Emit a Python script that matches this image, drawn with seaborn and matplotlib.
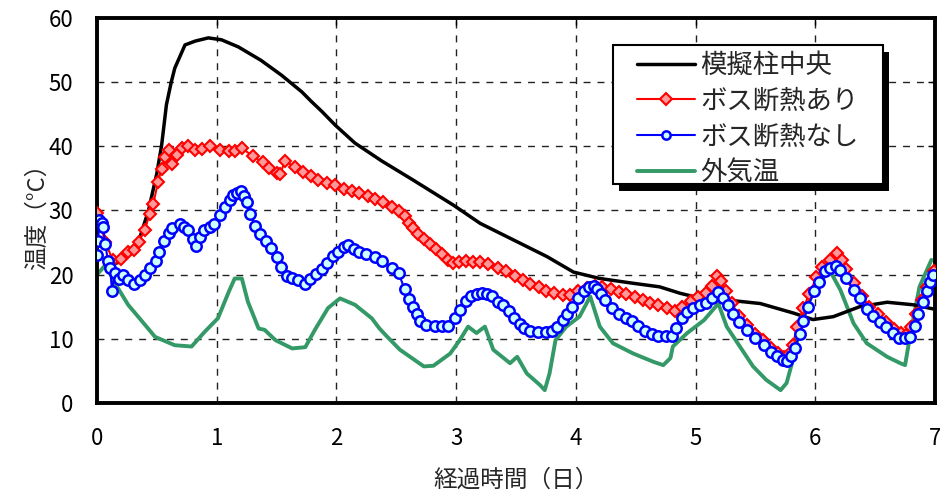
import matplotlib
matplotlib.use("Agg")
import matplotlib.pyplot as plt
from matplotlib.patches import Rectangle
import seaborn as sns

# 模擬柱中央
center_x = [0.1, 0.2, 0.3, 0.36, 0.43, 0.5, 0.54, 0.58, 0.62, 0.65, 0.735, 0.82, 0.93, 1.04, 1.18,
            1.37, 1.54, 1.71, 1.79, 1.88, 1.99, 2.155, 2.38, 2.64, 2.98, 3.2, 3.48, 3.76, 3.98, 4.2,
            4.48, 4.7, 4.87, 4.98, 5.26, 5.54, 5.82, 5.98, 6.15, 6.37, 6.6, 6.82, 7.0]
center_y = [21.5, 22, 24, 25.9, 30, 35.8, 40.2, 46.5, 50.0, 52.2, 55.8, 56.4, 56.9, 56.6, 55.5,
            53.4, 51.1, 48.5, 47.0, 45.4, 43.3, 40.5, 37.7, 34.75, 30.8, 28.0, 25.4, 22.8, 20.4, 19.4,
            18.65, 18.1, 17.1, 16.6, 16.05, 15.5, 14.0, 13.0, 13.45, 15.0, 15.7, 15.3, 14.6]

# ボス断熱あり
ins_x = [0, 0.07, 0.13, 0.2, 0.26, 0.31, 0.35, 0.40, 0.44, 0.47, 0.51, 0.54, 0.57, 0.60, 0.625,
         0.67, 0.71, 0.76, 0.82, 0.88, 0.94, 1.03, 1.10, 1.15, 1.21, 1.30, 1.385, 1.44, 1.50, 1.53,
         1.57, 1.65, 1.72, 1.79, 1.85, 1.92, 1.99, 2.06, 2.13, 2.19, 2.26, 2.32, 2.39, 2.46, 2.52,
         2.57, 2.61, 2.64, 2.68, 2.73, 2.78, 2.83, 2.88, 2.93, 2.97, 3.02, 3.08, 3.14, 3.20, 3.27,
         3.35, 3.42, 3.49, 3.56, 3.62, 3.69, 3.75, 3.82, 3.89, 3.95, 4.02, 4.09, 4.16, 4.22, 4.29,
         4.36, 4.42, 4.49, 4.56, 4.62, 4.69, 4.76, 4.83, 4.89, 4.96, 5.02, 5.09, 5.14, 5.18, 5.21,
         5.25, 5.30, 5.36, 5.43, 5.50, 5.56, 5.63, 5.69, 5.74, 5.78, 5.81, 5.85, 5.90, 5.95, 6.01,
         6.06, 6.12, 6.18, 6.22, 6.26, 6.32, 6.39, 6.45, 6.52, 6.59, 6.66, 6.72, 6.76, 6.80, 6.84,
         6.89, 6.93, 6.99]
ins_y = [29.6, 25.1, 22.3, 22.5, 23.6, 23.8, 25.1, 27.0, 29.5, 31.0, 34.5, 36.5, 38.3, 39.4, 37.2,
         38.7, 39.7, 40.0, 39.5, 39.6, 40.1, 39.5, 39.2, 39.3, 39.7, 38.5, 37.5, 36.6, 35.8, 35.7,
         37.7, 36.8, 36.0, 35.4, 34.8, 34.3, 34.0, 33.4, 33.0, 32.7, 32.3, 31.8, 31.3, 30.6, 29.9,
         29.1, 28.0, 27.2, 26.4, 25.6, 24.8, 24.0, 23.2, 22.3, 21.8, 21.9, 22.1, 22.0, 22.0, 21.7,
         21.1, 20.5, 19.8, 19.2, 18.5, 18.0, 17.5, 17.1, 16.8, 16.9, 17.4, 17.9, 18.2, 18.0, 17.7,
         17.3, 17.0, 16.5, 16.0, 15.6, 15.2, 14.8, 14.4, 14.9, 15.9, 16.5, 17.2, 18.3, 19.8, 19.0,
         17.5, 15.6, 13.6, 12.1, 10.7, 9.8, 8.6, 7.8, 7.2, 7.6, 9.1, 11.8, 14.8, 17.0, 19.6,
         21.2, 22.3, 23.3, 22.3, 20.9, 18.7, 16.6, 15.0, 13.9, 12.6, 11.6, 10.9, 10.6, 11.8, 13.8,
         16.0, 18.0, 20.6]

# ボス断熱なし
noins_x = [0, 0.01, 0.02, 0.045, 0.05, 0.07, 0.09, 0.11, 0.125, 0.15, 0.18, 0.22, 0.26, 0.31, 0.36,
           0.40, 0.445, 0.49, 0.52, 0.56, 0.60, 0.63, 0.69, 0.73, 0.76, 0.80, 0.83, 0.86, 0.89, 0.94,
           0.98, 1.03, 1.07, 1.11, 1.14, 1.17, 1.20, 1.23, 1.25, 1.28, 1.32, 1.36, 1.41, 1.45, 1.50,
           1.54, 1.59, 1.63, 1.68, 1.74, 1.78, 1.83, 1.88, 1.92, 1.97, 2.01, 2.06, 2.10, 2.15, 2.19,
           2.25, 2.32, 2.38, 2.46, 2.52, 2.57, 2.61, 2.64, 2.67, 2.70, 2.75, 2.82, 2.88, 2.93, 2.99,
           3.03, 3.08, 3.12, 3.17, 3.22, 3.26, 3.30, 3.35, 3.39, 3.44, 3.48, 3.53, 3.57, 3.62, 3.68,
           3.75, 3.80, 3.84, 3.89, 3.93, 3.97, 4.02, 4.07, 4.11, 4.15, 4.18, 4.21, 4.24, 4.30, 4.36,
           4.42, 4.47, 4.52, 4.58, 4.64, 4.69, 4.75, 4.80, 4.84, 4.89, 4.93, 4.98, 5.04, 5.09, 5.14,
           5.19, 5.23, 5.27, 5.31, 5.36, 5.43, 5.50, 5.57, 5.63, 5.68, 5.73, 5.76, 5.80, 5.83, 5.87,
           5.90, 5.94, 5.99, 6.03, 6.08, 6.12, 6.17, 6.21, 6.26, 6.32, 6.37, 6.43, 6.48, 6.54, 6.59,
           6.65, 6.70, 6.75, 6.79, 6.83, 6.86, 6.90, 6.93, 6.96, 6.98]
noins_y = [23.1, 25.3, 28.5, 28.0, 27.4, 24.8, 22.2, 21.0, 17.5, 20.3, 19.4, 20.0, 19.2, 18.6, 19.2,
           20.0, 21.0, 22.2, 23.5, 25.3, 26.5, 27.2, 27.9, 27.4, 26.9, 25.5, 24.4, 25.8, 27.0, 27.4,
           27.9, 29.3, 30.6, 31.6, 32.4, 32.8, 33.0, 32.3, 31.4, 29.5, 27.6, 26.3, 25.3, 24.2, 22.7,
           21.2, 19.8, 19.5, 19.2, 18.6, 19.3, 20.1, 20.9, 21.8, 22.9, 23.6, 24.3, 24.6, 24.0, 23.6,
           23.2, 22.7, 22.1, 21.1, 20.2, 17.7, 16.2, 15.0, 13.8, 12.8, 12.2, 12.0, 12.0, 12.0, 13.3,
           14.5, 15.9, 16.6, 17.0, 17.1, 17.0, 16.6, 15.8, 15.2, 14.3, 13.2, 12.3, 11.7, 11.2, 11.0,
           11.0, 11.2, 11.8, 12.9, 13.8, 15.0, 16.3, 17.4, 18.1, 18.3, 17.8, 17.0, 16.0, 14.8, 13.8,
           13.2, 12.7, 12.0, 11.2, 10.8, 10.5, 10.5, 10.5, 11.7, 13.3, 14.2, 14.8, 15.3, 15.6, 16.4,
           17.3, 16.4, 15.2, 13.9, 12.6, 11.3, 10.1, 9.0, 8.0, 7.3, 6.7, 6.5, 7.3, 8.6, 10.8,
           12.7, 15.0, 17.5, 18.9, 20.6, 21.1, 21.3, 20.8, 19.5, 17.6, 16.3, 14.6, 13.6, 12.6, 11.8,
           10.9, 10.2, 10.1, 10.3, 12.0, 13.9, 15.8, 17.4, 18.8, 20.0]

# 外気温
out_x = [0, 0.07, 0.175, 0.26, 0.40, 0.485, 0.65, 0.79, 0.90, 1.01, 1.10, 1.15, 1.21, 1.26, 1.35,
         1.40, 1.49, 1.63, 1.74, 1.82, 1.93, 2.03, 2.155, 2.295, 2.36, 2.41, 2.53, 2.73, 2.81, 2.95,
         3.03, 3.10, 3.17, 3.24, 3.31, 3.45, 3.51, 3.59, 3.70, 3.74, 3.78, 3.83, 3.92, 4.03, 4.12,
         4.20, 4.31, 4.48, 4.65, 4.73, 4.79, 4.81, 4.93, 5.07, 5.19, 5.26, 5.37, 5.48, 5.59, 5.71,
         5.76, 5.82, 5.90, 6.01, 6.12, 6.21, 6.32, 6.43, 6.60, 6.71, 6.75, 6.79, 6.87, 6.97]
out_y = [20, 21.5, 17.9, 15.3, 12.2, 10.3, 9.0, 8.8, 11.1, 13.2, 17.3, 19.4, 19.4, 15.8, 11.6,
         11.4, 9.8, 8.5, 8.7, 11.4, 14.8, 16.3, 15.3, 13.2, 11.6, 10.6, 8.3, 5.7, 5.8, 7.7,
         9.8, 11.9, 10.9, 11.9, 8.3, 6.2, 7.2, 4.6, 2.8, 2.0, 4.6, 9.8, 11.9, 13.45, 16.6,
         11.9, 9.3, 7.7, 6.4, 5.9, 7.0, 8.8, 10.9, 12.9, 15.5, 11.9, 8.8, 5.7, 3.6, 2.0,
         3.1, 7.2, 14.0, 18.1, 20.7, 17.6, 12.4, 9.3, 7.2, 6.2, 5.9, 10.3, 18.1, 22.3]

labels = ["模擬柱中央", "ボス断熱あり", "ボス断熱なし", "外気温"]
x_ticks = [0, 1, 2, 3, 4, 5, 6, 7]
y_ticks = [0, 10, 20, 30, 40, 50, 60]

sns.set_style("white")
plt.rcParams['font.family'] = ['Noto Sans CJK JP', 'DejaVu Sans']

fig = plt.figure(figsize=(9.4, 4.93), dpi=100)
ax = fig.add_axes([0.1032, 0.1826, 0.8915, 0.7809])

sns.lineplot(x=center_x, y=center_y, ax=ax, color="black", lw=2.5, estimator=None,
             label=labels[0], zorder=2.5)
sns.lineplot(x=ins_x, y=ins_y, ax=ax, color="#ff0000", lw=1.5, marker="D", markersize=6,
             markerfacecolor="#ff9999", markeredgecolor="#ff0000", markeredgewidth=1.5,
             estimator=None, label=labels[1], zorder=3)
sns.lineplot(x=noins_x, y=noins_y, ax=ax, color="#0000ff", lw=1.5, marker="o", markersize=7.5,
             markerfacecolor="#ccffff", markeredgecolor="#0000ff", markeredgewidth=1.8,
             estimator=None, label=labels[2], zorder=4)
sns.lineplot(x=out_x, y=out_y, ax=ax, color="#339966", lw=2.8, estimator=None,
             label=labels[3], zorder=2)

ax.set_xlim(0, 7)
ax.set_ylim(0, 60)
ax.set_xticks(x_ticks)
ax.set_yticks(y_ticks)
ax.grid(True, color="#222222", lw=1, ls=(0, (5, 5)))
ax.tick_params(direction="in", length=5, width=1, top=True, right=True,
               labelsize=16, pad=17, colors="black")
for s in ax.spines.values():
    s.set_color("black")
    s.set_linewidth(2.8)

ax.set_xlabel("経過時間（日）", fontsize=17, labelpad=14)
ax.set_ylabel("温度（°C）", fontsize=17, labelpad=0)

# legend box with solid black shadow
bx, by, bw, bh = 0.6158, 0.569, 0.3222, 0.361
ax.add_patch(Rectangle((bx + 6 / 838, by - 7 / 385), bw, bh, transform=ax.transAxes,
                       facecolor="black", edgecolor="none", zorder=9, clip_on=False))
ax.add_patch(Rectangle((bx, by), bw, bh, transform=ax.transAxes, facecolor="white",
                       edgecolor="black", lw=1.5, zorder=10, clip_on=False))

leg = ax.legend(loc="upper left", bbox_to_anchor=(0.644, 0.912), borderaxespad=0,
                fontsize=19, frameon=False, handlelength=2.2, labelspacing=0.33,
                handletextpad=0.2, borderpad=0, numpoints=1)
leg.set_zorder(11)
for h in leg.legend_handles:
    h.set_markersize(6)

fig.savefig("out.png", dpi=100)
